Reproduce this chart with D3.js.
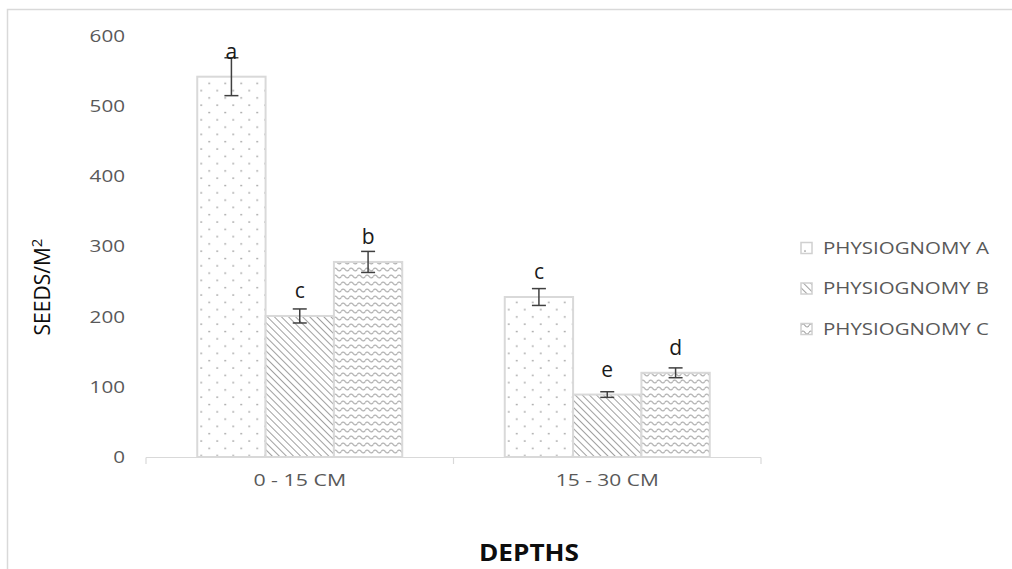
<!DOCTYPE html>
<html>
<head>
<meta charset="utf-8">
<script src="https://cdn.jsdelivr.net/npm/d3@7"></script>
<style>
  body { margin: 0; background: #fff; }
  text { font-family: "Open Sans", Lato, sans-serif; }
</style>
</head>
<body>
<div id="chart"></div>
<script>
const categories = ["0 - 15 CM", "15 - 30 CM"];
const series = ["PHYSIOGNOMY A", "PHYSIOGNOMY B", "PHYSIOGNOMY C"];
const valuesA = [542, 228];
const valuesB = [201, 89];
const valuesC = [278, 120];
const errorsA = [27, 12];
const errorsB = [10, 4];
const errorsC = [15, 7];
const lettersA = ["a", "c"];
const lettersB = ["c", "e"];
const lettersC = ["b", "d"];
const yTicks = [0, 100, 200, 300, 400, 500, 600];

const W = 1012, H = 569;
const svg = d3.select("#chart").append("svg")
    .attr("width", W)
    .attr("height", H);

// patterns
const defs = svg.append("defs");
const pA = defs.append("pattern").attr("id", "patA")
    .attr("patternUnits", "userSpaceOnUse").attr("width", 16).attr("height", 14.6);
pA.append("rect").attr("width", 16).attr("height", 14.6).attr("fill", "#fff");
pA.append("circle").attr("cx", 4).attr("cy", 3).attr("r", 0.9).attr("fill", "#9a9a9a");
pA.append("circle").attr("cx", 12).attr("cy", 10.3).attr("r", 0.9).attr("fill", "#9a9a9a");

const pB = defs.append("pattern").attr("id", "patB")
    .attr("patternUnits", "userSpaceOnUse").attr("width", 5).attr("height", 5)
    .attr("patternTransform", "rotate(-45)");
pB.append("rect").attr("width", 5).attr("height", 5).attr("fill", "#fff");
pB.append("line").attr("x1", 0).attr("y1", 0).attr("x2", 0).attr("y2", 5)
    .attr("stroke", "#a0a0a0").attr("stroke-width", 2);

const pC = defs.append("pattern").attr("id", "patC")
    .attr("patternUnits", "userSpaceOnUse").attr("width", 8).attr("height", 7);
pC.append("rect").attr("width", 8).attr("height", 7).attr("fill", "#fff");
pC.append("path").attr("d", "M0,3.5 Q2,0.5 4,3.5 T8,3.5")
    .attr("fill", "none").attr("stroke", "#a0a0a0").attr("stroke-width", 1.2);

const patterns = ["url(#patA)", "url(#patB)", "url(#patC)"];

// frame
svg.append("rect").attr("x", 7.5).attr("y", 9.5).attr("width", W + 10).attr("height", H + 10)
    .attr("fill", "none").attr("stroke", "#d9d9d9").attr("stroke-width", 1.5);

const x0 = d3.scaleBand().domain(categories).range([146, 761])
    .paddingInner(1 / 3).paddingOuter(1 / 6);
const x1 = d3.scaleBand().domain(series).range([0, x0.bandwidth()]);
const y = d3.scaleLinear().domain([0, 600]).range([457, 36]);

const data = categories.map((c, i) => ({
    cat: c,
    items: [
        { s: series[0], v: valuesA[i], e: errorsA[i], l: lettersA[i] },
        { s: series[1], v: valuesB[i], e: errorsB[i], l: lettersB[i] },
        { s: series[2], v: valuesC[i], e: errorsC[i], l: lettersC[i] }
    ]
}));

// y tick labels
svg.append("g").selectAll("text").data(yTicks).join("text")
    .attr("x", 125).attr("y", d => y(d))
    .attr("dy", "0.35em")
    .attr("text-anchor", "end")
    .attr("font-size", 17)
    .attr("fill", "#595959")
    .attr("textLength", d => String(d).length * 11.8)
    .attr("lengthAdjust", "spacingAndGlyphs")
    .text(d => d);

const groups = svg.append("g").selectAll("g").data(data).join("g")
    .attr("transform", d => `translate(${x0(d.cat)},0)`);

groups.selectAll("rect").data(d => d.items).join("rect")
    .attr("x", d => x1(d.s))
    .attr("y", d => y(d.v))
    .attr("width", x1.bandwidth())
    .attr("height", d => y(0) - y(d.v))
    .attr("fill", (d, i) => patterns[i])
    .attr("stroke", "#d9d9d9")
    .attr("stroke-width", 2);

// error bars
const eb = groups.selectAll("g.err").data(d => d.items).join("g").attr("class", "err");
const cx = d => x1(d.s) + x1.bandwidth() / 2;
eb.append("line")
    .attr("x1", cx).attr("x2", cx)
    .attr("y1", d => y(d.v + d.e)).attr("y2", d => y(d.v - d.e))
    .attr("stroke", "#404040").attr("stroke-width", 1.5);
eb.append("line")
    .attr("x1", d => cx(d) - 7).attr("x2", d => cx(d) + 7)
    .attr("y1", d => y(d.v + d.e)).attr("y2", d => y(d.v + d.e))
    .attr("stroke", "#404040").attr("stroke-width", 1.5);
eb.append("line")
    .attr("x1", d => cx(d) - 7).attr("x2", d => cx(d) + 7)
    .attr("y1", d => y(d.v - d.e)).attr("y2", d => y(d.v - d.e))
    .attr("stroke", "#404040").attr("stroke-width", 1.5);
// significance letters sit a fixed distance above the bar top
eb.append("text")
    .attr("x", cx)
    .attr("y", d => y(d.v) - 18)
    .attr("text-anchor", "middle")
    .attr("font-size", 21)
    .attr("fill", "#1a1a1a")
    .text(d => d.l);

// x axis
const xAxis = svg.append("g");
xAxis.append("line").attr("x1", 146).attr("x2", 761).attr("y1", 457.5).attr("y2", 457.5)
    .attr("stroke", "#d9d9d9").attr("stroke-width", 1.2);
const tickPos = [146, 761].concat(categories.slice(1).map(c => x0(c) - x0.step() * x0.paddingInner() / 2));
xAxis.selectAll("line.tk").data(tickPos).join("line").attr("class", "tk")
    .attr("x1", d => d).attr("x2", d => d).attr("y1", 457.5).attr("y2", 464)
    .attr("stroke", "#d9d9d9").attr("stroke-width", 1.2);
xAxis.selectAll("text").data(categories).join("text")
    .attr("x", d => x0(d) + x0.bandwidth() / 2)
    .attr("y", 486)
    .attr("text-anchor", "middle")
    .attr("font-size", 17)
    .attr("fill", "#595959")
    .attr("textLength", d => d.length * 10.3)
    .attr("lengthAdjust", "spacingAndGlyphs")
    .text(d => d);

// axis titles
svg.append("text")
    .attr("x", 529).attr("y", 561)
    .attr("text-anchor", "middle")
    .attr("font-size", 23).attr("font-weight", "bold")
    .attr("fill", "#0d0d0d")
    .attr("textLength", 100)
    .attr("lengthAdjust", "spacingAndGlyphs")
    .text("DEPTHS");

const yl = svg.append("text")
    .attr("transform", "translate(50,287) rotate(-90)")
    .attr("text-anchor", "middle")
    .attr("font-size", 21)
    .attr("fill", "#0d0d0d");
yl.append("tspan").text("SEEDS/M");
yl.append("tspan").attr("dy", -8).attr("font-size", 15).text("2");

// legend
const lg = svg.append("g").selectAll("g").data(series).join("g")
    .attr("transform", (d, i) => `translate(801,${248 + i * 40.5})`);
lg.append("rect").attr("x", 0).attr("y", -5.5).attr("width", 11).attr("height", 11)
    .attr("fill", (d, i) => patterns[i]).attr("stroke", "#d0d0d0").attr("stroke-width", 1.5);
lg.append("text").attr("x", 22).attr("y", 0).attr("dy", "0.35em")
    .attr("font-size", 17).attr("fill", "#595959")
    .attr("textLength", 166)
    .attr("lengthAdjust", "spacingAndGlyphs")
    .text(d => d);
</script>
</body>
</html>
